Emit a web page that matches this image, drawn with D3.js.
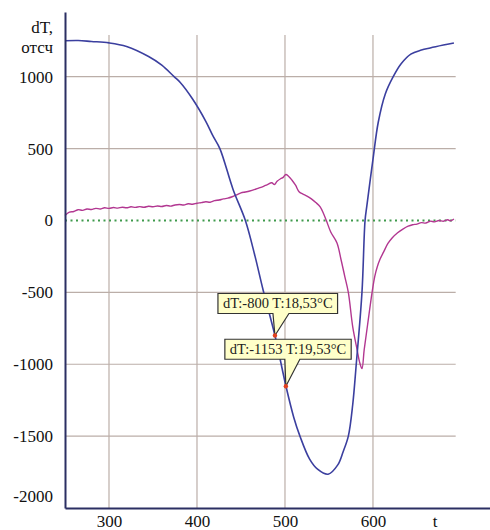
<!DOCTYPE html>
<html>
<head>
<meta charset="utf-8">
<script src="https://cdn.jsdelivr.net/npm/d3@7"></script>
<style>
  body { margin: 0; background: #fff; }
  svg { display: block; }
</style>
</head>
<body>
<script>
// t ticks and dT ticks
var xTicks = [300, 400, 500, 600];
var yTicks = [1000, 500, 0, -500, -1000, -1500, -2000];

// blue curve (smooth)
var blueT  = [250, 265, 280, 300, 320, 345, 360, 374, 381, 395, 410, 418, 426, 441, 455, 466, 475, 488.6, 501, 510, 517, 528, 537, 549, 560, 566, 572, 577, 581, 587.5, 591, 593, 600, 606, 614, 623, 632, 643, 655, 665, 680, 692];
var blueDT = [1250, 1252, 1245, 1235, 1210, 1140, 1080, 1000, 960, 845, 690, 590, 500, 216, 0, -250, -480, -800, -1150, -1370, -1500, -1660, -1730, -1765, -1700, -1610, -1500, -1280, -1000, -500, 0, 100, 425, 683, 880, 1000, 1090, 1157, 1185, 1200, 1220, 1235];

// purple curve (noisy)
var purpleT  = [250, 255, 260, 265, 270, 275, 280, 285, 290, 295, 300, 305, 310, 315, 320, 325, 330, 335, 340, 345, 350, 355, 360, 365, 370, 375, 380, 385, 390, 395, 400, 405, 410, 415, 420, 425, 430, 435, 440, 445, 450, 455, 460, 465, 470, 475, 480, 485, 488, 491, 495, 498, 501, 504, 508, 512, 516, 520, 525, 530, 535, 540, 544, 547, 552, 559, 564, 568, 572, 577, 582, 585, 587.5, 590, 594, 599, 602, 605, 608, 612, 617, 622, 628, 634, 640, 645, 650, 655, 660, 665, 670, 675, 680, 685, 688, 692];
var purpleDT = [35, 58, 62, 75, 70, 80, 76, 84, 80, 88, 84, 90, 86, 92, 88, 95, 91, 96, 92, 99, 95, 101, 97, 104, 100, 108, 111, 108, 116, 113, 120, 124, 130, 127, 138, 142, 150, 155, 165, 178, 192, 198, 205, 214, 225, 236, 250, 262, 250, 272, 290, 300, 320, 308, 280, 245, 200, 185, 170, 150, 125, 95, 45, 0, -80, -155, -280, -390, -500, -740, -900, -990, -1030, -900, -720, -500, -390, -320, -270, -220, -160, -120, -85, -60, -40, -30, -25, -15, -18, -5, -10, 0, -5, 5, -3, 10];

// callouts
var markT   = [488.6, 501];
var markDT  = [-800, -1153];
var markTxt = ["dT:-800 T:18,53°C", "dT:-1153 T:19,53°C"];

var width = 490, height = 530;
var serif = '"Liberation Serif", "Times New Roman", "DejaVu Serif", serif';

var x = d3.scaleLinear().domain([250, 733]).range([65, 490]);
var y = d3.scaleLinear().domain([1450, -2000]).range([12, 508]);

var svg = d3.select("body").append("svg")
    .attr("width", width)
    .attr("height", height);

var gridColor = "#bbaea8";

// vertical grid
svg.append("g").selectAll("line")
    .data(xTicks).enter().append("line")
    .attr("x1", d => x(d)).attr("x2", d => x(d))
    .attr("y1", y(1290)).attr("y2", y(-2000))
    .attr("stroke", gridColor).attr("stroke-width", 1.2);

// horizontal grid (not 0 and not -2000)
svg.append("g").selectAll("line")
    .data(yTicks.filter(d => d !== 0 && d !== -2000)).enter().append("line")
    .attr("x1", x(250)).attr("x2", x(694))
    .attr("y1", d => y(d)).attr("y2", d => y(d))
    .attr("stroke", gridColor).attr("stroke-width", 1.2);

// zero line, dotted green
svg.append("line")
    .attr("x1", x(250)).attr("x2", x(694))
    .attr("y1", y(0)).attr("y2", y(0))
    .attr("stroke", "#3f9a4c").attr("stroke-width", 2)
    .attr("stroke-dasharray", "2,3.5");

// curves
var line = d3.line().x(d => x(d[0])).y(d => y(d[1]));

svg.append("path")
    .datum(purpleT.map((t, i) => [t, purpleDT[i]]))
    .attr("d", line.curve(d3.curveCatmullRom.alpha(0.5)))
    .attr("fill", "none").attr("stroke", "#b23791").attr("stroke-width", 1.4);

svg.append("path")
    .datum(blueT.map((t, i) => [t, blueDT[i]]))
    .attr("d", line.curve(d3.curveCatmullRom.alpha(0.5)))
    .attr("fill", "none").attr("stroke", "#3b3f9f").attr("stroke-width", 1.6);

// axes
var xAxis = svg.append("g")
    .attr("transform", "translate(0," + y(-2000) + ")")
    .call(d3.axisBottom(x).tickValues(xTicks).tickFormat(d => String(d))
      .tickSize(0).tickPadding(7));
xAxis.select(".domain").attr("stroke", "#2b2f63").attr("stroke-width", 2);
xAxis.selectAll("text").style("font-family", serif).style("font-size", "17px")
    .attr("fill", "#111");

var yAxis = svg.append("g")
    .attr("transform", "translate(" + x(250) + ",0)")
    .call(d3.axisLeft(y).tickValues(yTicks).tickFormat(d => String(d))
      .tickSize(0).tickPadding(12));
yAxis.select(".domain").attr("stroke", "#2b2f63").attr("stroke-width", 2);
yAxis.selectAll("text").style("font-family", serif).style("font-size", "17px")
    .attr("fill", "#111")
    .attr("y", d => d === -2000 ? -12 : 0);

function label(tx, ty, s, anchor) {
  svg.append("text")
      .attr("x", tx).attr("y", ty)
      .attr("text-anchor", anchor)
      .style("font-family", serif).style("font-size", "17px")
      .attr("fill", "#111").text(s);
}
label(435, y(-2000) + 19, "t", "middle");
label(53, 33, "dT,", "end");
label(53, 53, "отсч", "end");

// callouts: box offsets relative to the marked point
var boxOff = [{dx: -57, dy: -42, pl: -2, pr: 14}, {dx: -61, dy: -47, pl: -1, pr: 14}];

markT.forEach(function(t, i) {
  var px = x(t), py = y(markDT[i]);
  var o = boxOff[i];
  var g = svg.append("g");
  var shape = g.append("path");
  var txt = g.append("text")
      .attr("x", px + o.dx + 5).attr("y", py + o.dy + 15)
      .style("font-family", serif).style("font-size", "14.5px")
      .attr("fill", "#222").text(markTxt[i]);
  var w = txt.node().getComputedTextLength() + 10;
  var l = px + o.dx, tp = py + o.dy, b = tp + 20, r = l + w;
  var p = d3.path();
  p.moveTo(l, tp); p.lineTo(r, tp); p.lineTo(r, b);
  p.lineTo(px + o.pr, b); p.lineTo(px, py); p.lineTo(px + o.pl, b);
  p.lineTo(l, b); p.closePath();
  shape.attr("d", p.toString()).attr("fill", "#ffffc9")
      .attr("stroke", "#333").attr("stroke-width", 1.2);
  g.append("circle").attr("cx", px).attr("cy", py).attr("r", 2.2)
      .attr("fill", "#e2401e");
});
</script>
</body>
</html>
